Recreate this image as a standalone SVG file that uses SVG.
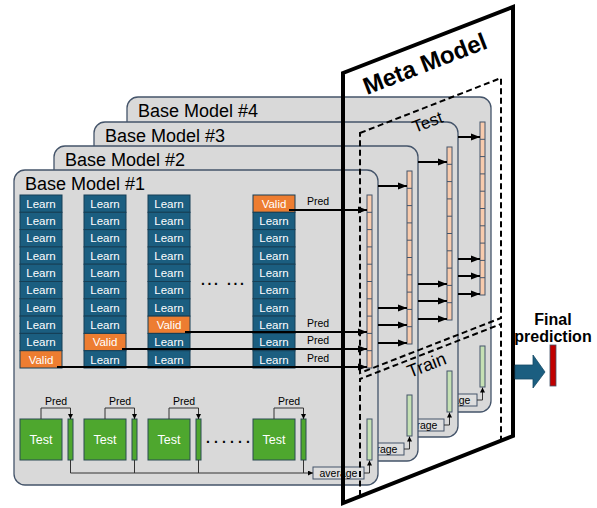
<svg xmlns="http://www.w3.org/2000/svg" xmlns:xlink="http://www.w3.org/1999/xlink" width="597" height="508" viewBox="0 0 597 508">
<style>
.panel{fill:#d9d9d9;stroke:#44546a;stroke-width:1.3}
.title{font-family:"Liberation Sans",Arial,sans-serif;font-size:18px;fill:#000}
.learn{fill:#1b5e80;stroke:#163f56;stroke-width:1}
.valid{fill:#ed7d31;stroke:#163f56;stroke-width:1}
.cell{font-family:"Liberation Sans",Arial,sans-serif;font-size:11.5px;fill:#fff;text-anchor:middle}
.test{fill:#4ea72e;stroke:#2b4a52;stroke-width:1}
.ttxt{font-family:"Liberation Sans",Arial,sans-serif;font-size:12.5px;fill:#fff;text-anchor:middle}
.gbar{fill:#4ea72e;stroke:#2b4a52;stroke-width:1}
.lbar{fill:#c5e0b4;stroke:#44546a;stroke-width:1}
.vec{fill:#f8cbad;stroke:#44546a;stroke-width:1}
.seg{stroke:#44546a;stroke-width:1;fill:none}
.avg{fill:#dedede;stroke:#44546a;stroke-width:1}
.lbl{font-family:"Liberation Sans",Arial,sans-serif;font-size:10.5px;fill:#000}
.lblc{font-family:"Liberation Sans",Arial,sans-serif;font-size:10.5px;fill:#000;text-anchor:middle}
.dots{font-family:"Liberation Sans",Arial,sans-serif;font-size:14px;font-weight:bold;fill:#000}
.arr{stroke:#000;stroke-width:2;fill:none;marker-end:url(#ah)}
.thin{stroke:#333;stroke-width:1;fill:none}
.thina{stroke:#333;stroke-width:1;fill:none;marker-end:url(#as)}
.dash{stroke:#000;stroke-width:2;stroke-dasharray:6 3.5;fill:none}
.meta{font-family:"Liberation Sans",Arial,sans-serif;font-size:24px;font-weight:bold;fill:#000}
.sub{font-family:"Liberation Sans",Arial,sans-serif;font-size:18px;fill:#000}
.final{font-family:"Liberation Sans",Arial,sans-serif;font-size:16px;font-weight:bold;fill:#000;text-anchor:middle}
</style>
<defs>
<marker id="ah" markerWidth="9" markerHeight="8" refX="9" refY="4" orient="auto" markerUnits="userSpaceOnUse"><path d="M0,0.5 L9,4 L0,7.5z" fill="#000"/></marker>
<marker id="as" markerWidth="5" markerHeight="5" refX="5" refY="2.5" orient="auto" markerUnits="userSpaceOnUse"><path d="M0,0 L5,2.5 L0,5z" fill="#000"/></marker>
<g id="mv">
<rect class="vec" x="367" y="195" width="5" height="173"/>
<path class="seg" d="M367 212.3h5M367 229.6h5M367 246.9h5M367 264.2h5M367 281.5h5M367 298.8h5M367 316.1h5M367 333.4h5M367 350.7h5"/>
</g>
<g id="avgbox">
<rect class="avg" x="313" y="467" width="51" height="12"/>
<text class="lblc" x="338.5" y="476.5">average</text>
<rect class="lbar" x="367" y="419" width="5" height="41"/>
</g>
</defs>

<g id="base-model-4" transform="translate(113,-73)">
<rect class="panel" x="14" y="170" width="364" height="315" rx="11"/>
<text class="title" x="25" y="190">Base Model #4</text>
<use xlink:href="#mv" href="#mv"/>
<use xlink:href="#avgbox" href="#avgbox"/>
</g>
<g id="base-model-3" transform="translate(80,-48)">
<rect class="panel" x="14" y="170" width="364" height="315" rx="11"/>
<text class="title" x="25" y="190">Base Model #3</text>
<use xlink:href="#mv" href="#mv"/>
<use xlink:href="#avgbox" href="#avgbox"/>
</g>
<g id="base-model-2" transform="translate(40,-24)">
<rect class="panel" x="14" y="170" width="364" height="315" rx="11"/>
<text class="title" x="25" y="190">Base Model #2</text>
<use xlink:href="#mv" href="#mv"/>
<use xlink:href="#avgbox" href="#avgbox"/>
</g>

<g id="base-model-1">
<rect class="panel" x="14" y="170" width="364" height="315" rx="11"/>
<text class="title" x="25" y="190">Base Model #1</text>
<g id="fold-1">
<rect class="learn" x="20" y="195" width="42" height="17.3"/><text class="cell" x="41" y="207.8">Learn</text>
<rect class="learn" x="20" y="212.3" width="42" height="17.3"/><text class="cell" x="41" y="225.1">Learn</text>
<rect class="learn" x="20" y="229.6" width="42" height="17.3"/><text class="cell" x="41" y="242.4">Learn</text>
<rect class="learn" x="20" y="246.9" width="42" height="17.3"/><text class="cell" x="41" y="259.7">Learn</text>
<rect class="learn" x="20" y="264.2" width="42" height="17.3"/><text class="cell" x="41" y="277">Learn</text>
<rect class="learn" x="20" y="281.5" width="42" height="17.3"/><text class="cell" x="41" y="294.3">Learn</text>
<rect class="learn" x="20" y="298.8" width="42" height="17.3"/><text class="cell" x="41" y="311.6">Learn</text>
<rect class="learn" x="20" y="316.1" width="42" height="17.3"/><text class="cell" x="41" y="328.9">Learn</text>
<rect class="learn" x="20" y="333.4" width="42" height="17.3"/><text class="cell" x="41" y="346.2">Learn</text>
<rect class="valid" x="20" y="350.7" width="42" height="17.3"/><text class="cell" x="41" y="363.5">Valid</text>
</g>
<g id="fold-2">
<rect class="learn" x="84" y="195" width="42" height="17.3"/><text class="cell" x="105" y="207.8">Learn</text>
<rect class="learn" x="84" y="212.3" width="42" height="17.3"/><text class="cell" x="105" y="225.1">Learn</text>
<rect class="learn" x="84" y="229.6" width="42" height="17.3"/><text class="cell" x="105" y="242.4">Learn</text>
<rect class="learn" x="84" y="246.9" width="42" height="17.3"/><text class="cell" x="105" y="259.7">Learn</text>
<rect class="learn" x="84" y="264.2" width="42" height="17.3"/><text class="cell" x="105" y="277">Learn</text>
<rect class="learn" x="84" y="281.5" width="42" height="17.3"/><text class="cell" x="105" y="294.3">Learn</text>
<rect class="learn" x="84" y="298.8" width="42" height="17.3"/><text class="cell" x="105" y="311.6">Learn</text>
<rect class="learn" x="84" y="316.1" width="42" height="17.3"/><text class="cell" x="105" y="328.9">Learn</text>
<rect class="valid" x="84" y="333.4" width="42" height="17.3"/><text class="cell" x="105" y="346.2">Valid</text>
<rect class="learn" x="84" y="350.7" width="42" height="17.3"/><text class="cell" x="105" y="363.5">Learn</text>
</g>
<g id="fold-3">
<rect class="learn" x="148" y="195" width="42" height="17.3"/><text class="cell" x="169" y="207.8">Learn</text>
<rect class="learn" x="148" y="212.3" width="42" height="17.3"/><text class="cell" x="169" y="225.1">Learn</text>
<rect class="learn" x="148" y="229.6" width="42" height="17.3"/><text class="cell" x="169" y="242.4">Learn</text>
<rect class="learn" x="148" y="246.9" width="42" height="17.3"/><text class="cell" x="169" y="259.7">Learn</text>
<rect class="learn" x="148" y="264.2" width="42" height="17.3"/><text class="cell" x="169" y="277">Learn</text>
<rect class="learn" x="148" y="281.5" width="42" height="17.3"/><text class="cell" x="169" y="294.3">Learn</text>
<rect class="learn" x="148" y="298.8" width="42" height="17.3"/><text class="cell" x="169" y="311.6">Learn</text>
<rect class="valid" x="148" y="316.1" width="42" height="17.3"/><text class="cell" x="169" y="328.9">Valid</text>
<rect class="learn" x="148" y="333.4" width="42" height="17.3"/><text class="cell" x="169" y="346.2">Learn</text>
<rect class="learn" x="148" y="350.7" width="42" height="17.3"/><text class="cell" x="169" y="363.5">Learn</text>
</g>
<text class="dots" x="201" y="285" letter-spacing="2.6">... ...</text>
<g id="fold-k">
<rect class="valid" x="253" y="195" width="42" height="17.3"/><text class="cell" x="274" y="207.8">Valid</text>
<rect class="learn" x="253" y="212.3" width="42" height="17.3"/><text class="cell" x="274" y="225.1">Learn</text>
<rect class="learn" x="253" y="229.6" width="42" height="17.3"/><text class="cell" x="274" y="242.4">Learn</text>
<rect class="learn" x="253" y="246.9" width="42" height="17.3"/><text class="cell" x="274" y="259.7">Learn</text>
<rect class="learn" x="253" y="264.2" width="42" height="17.3"/><text class="cell" x="274" y="277">Learn</text>
<rect class="learn" x="253" y="281.5" width="42" height="17.3"/><text class="cell" x="274" y="294.3">Learn</text>
<rect class="learn" x="253" y="298.8" width="42" height="17.3"/><text class="cell" x="274" y="311.6">Learn</text>
<rect class="learn" x="253" y="316.1" width="42" height="17.3"/><text class="cell" x="274" y="328.9">Learn</text>
<rect class="learn" x="253" y="333.4" width="42" height="17.3"/><text class="cell" x="274" y="346.2">Learn</text>
<rect class="learn" x="253" y="350.7" width="42" height="17.3"/><text class="cell" x="274" y="363.5">Learn</text>
</g>
<use xlink:href="#mv" href="#mv"/>
<g id="test-1"><rect class="test" x="20" y="419" width="42" height="41"/><text class="ttxt" x="41" y="444">Test</text><rect class="gbar" x="68" y="419" width="5" height="41"/></g>
<g id="test-2"><rect class="test" x="84" y="419" width="42" height="41"/><text class="ttxt" x="105" y="444">Test</text><rect class="gbar" x="132" y="419" width="5" height="41"/></g>
<g id="test-3"><rect class="test" x="148" y="419" width="42" height="41"/><text class="ttxt" x="169" y="444">Test</text><rect class="gbar" x="196" y="419" width="5" height="41"/></g>
<text class="dots" x="206" y="443" letter-spacing="4.1">......</text>
<g id="test-k"><rect class="test" x="253" y="419" width="42" height="41"/><text class="ttxt" x="274" y="444">Test</text><rect class="gbar" x="301" y="419" width="5" height="41"/></g>
<use xlink:href="#avgbox" href="#avgbox"/>
</g>

<g id="connectors">
<g id="conn-4" transform="translate(113,-73)">
<path class="arr" d="M345 210H367"/><path class="arr" d="M345 332H367"/><path class="arr" d="M345 349H367"/><path class="arr" d="M345 367H367"/>
<path class="thina" d="M364 473H369.5V460.5"/>
</g>
<g id="conn-3" transform="translate(80,-48)">
<path class="arr" d="M338 210H367"/><path class="arr" d="M338 332H367"/><path class="arr" d="M338 349H367"/><path class="arr" d="M338 367H367"/>
<path class="thina" d="M364 473H369.5V460.5"/>
</g>
<g id="conn-2" transform="translate(40,-24)">
<path class="arr" d="M338 210H367"/><path class="arr" d="M338 332H367"/><path class="arr" d="M338 349H367"/><path class="arr" d="M338 367H367"/>
<path class="thina" d="M364 473H369.5V460.5"/>
</g>
<g id="conn-1">
<path class="arr" d="M289 210H367"/><text class="lbl" x="307" y="205">Pred</text>
<path class="arr" d="M185 332H367"/><text class="lbl" x="307" y="327">Pred</text>
<path class="arr" d="M122 349H367"/><text class="lbl" x="307" y="344">Pred</text>
<path class="arr" d="M57 367H367"/><text class="lbl" x="307" y="362">Pred</text>
<path class="thina" d="M41 419V408H70.5V419"/><text class="lblc" x="56" y="405">Pred</text>
<path class="thina" d="M105 419V408H134.5V419"/><text class="lblc" x="120" y="405">Pred</text>
<path class="thina" d="M169 419V408H198.5V419"/><text class="lblc" x="184" y="405">Pred</text>
<path class="thina" d="M274 419V408H303.5V419"/><text class="lblc" x="289" y="405">Pred</text>
<path class="thin" d="M134.5 460V473M198.5 460V473M303.5 460V473"/>
<path class="thina" d="M70.5 460V473H313"/>
<path class="thina" d="M364 473H369.5V460.5"/>
</g>
</g>

<g id="meta-model">
<polygon points="343,73 513,7 513,436 343,503" fill="none" stroke="#000" stroke-width="4"/>
<text class="meta" transform="translate(367,95) rotate(-21.2)">Meta Model</text>
</g>
<g id="meta-test">
<polygon class="dash" points="360,133 501,78 501,318 360,373"/>
<text class="sub" transform="translate(415,133) rotate(-21.2)" style="font-size:17px">Test</text>
</g>
<g id="meta-train">
<polyline class="dash" points="360,496 360,379 501,324 501,440"/>
<text class="sub" transform="translate(410,378) rotate(-21.2)">Train</text>
</g>

<g id="final-prediction">
<text class="final" x="553" y="325">Final</text>
<text class="final" x="553" y="342">prediction</text>
<polygon points="515,365 533,365 533,355 545,372 533,388 533,379 515,379" fill="#1b5e80" stroke="#154a66" stroke-width="0.8"/>
<rect x="550" y="345" width="6" height="41" fill="#c00000" stroke="#44546a" stroke-width="0.8"/>
</g>
</svg>
